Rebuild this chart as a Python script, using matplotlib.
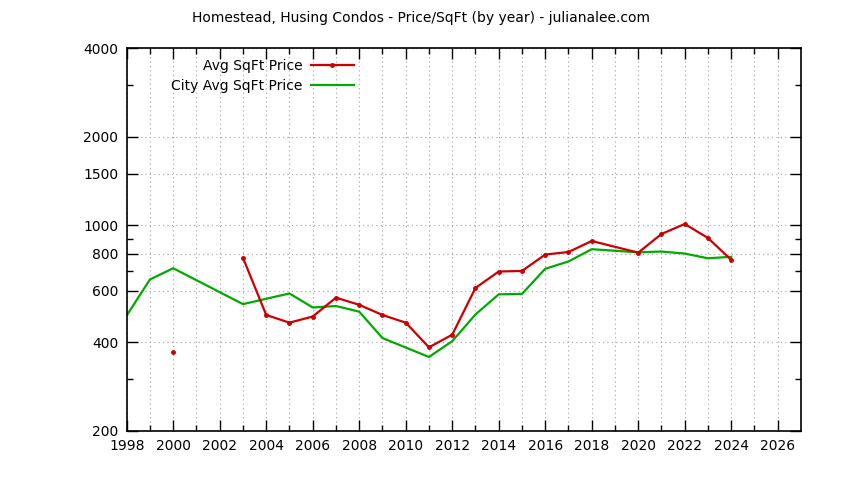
import numpy as np
import matplotlib
matplotlib.use("Agg")
import matplotlib.pyplot as plt
from matplotlib.ticker import FixedLocator, NullFormatter

# Prix moyen au pied carré (Homestead, Husing Condos)
annees_avg = [2000, 2003, 2004, 2005, 2006, 2007, 2008, 2009, 2010, 2011, 2012,
              2013, 2014, 2015, 2016, 2017, 2018, 2020, 2021, 2022, 2023, 2024]
prix_avg = [370, 776, 496, 467, 490, 568, 537, 496, 467, 385, 425,
            613, 697, 700, 796, 812, 885, 808, 935, 1011, 906, 763]

# Prix moyen de la ville
annees_ville = [1998, 1999, 2000, 2003, 2005, 2006, 2007, 2008, 2009, 2011, 2012,
                2013, 2014, 2015, 2016, 2017, 2018, 2020, 2021, 2022, 2023, 2024]
prix_ville = [494, 655, 715, 540, 587, 526, 532, 509, 414, 357, 404,
              498, 583, 585, 712, 754, 830, 810, 815, 802, 773, 782]

y_ticks = [200, 400, 600, 800, 1000, 1500, 2000, 4000]
y_mineurs = [300, 700, 900, 3000]
x_ticks = list(range(1998, 2027, 2))
x_mineurs = list(range(1999, 2027, 2))

titre = "Homestead, Husing Condos - Price/SqFt (by year) - julianalee.com"

plt.rcParams["font.family"] = ["DejaVu Sans"]
plt.rcParams["font.size"] = 10

fig = plt.figure(figsize=(8.44, 4.8), dpi=100)
ax = fig.add_axes([126.7 / 844, 49 / 480, (801 - 126.7) / 844, (431 - 48.3) / 480])

# La série "Avg" a un trou entre 2000 et 2003 : on coupe la ligne
x_avg = np.array(annees_avg, dtype=float)
y_avg = np.array(prix_avg, dtype=float)
coupure = np.where(np.diff(x_avg) > 2)[0]
x_avg = np.insert(x_avg, coupure + 1, np.nan)
y_avg = np.insert(y_avg, coupure + 1, np.nan)

ax.plot(x_avg, y_avg, color="#cc0000", lw=1.6, marker="o", ms=2.5,
        label="Avg SqFt Price", zorder=3)
ax.plot(annees_ville, prix_ville, color="#00aa00", lw=1.6,
        label="City Avg SqFt Price", zorder=2)

ax.set_yscale("log")
ax.set_xlim(1998, 2027)
ax.set_ylim(200, 4000)

ax.yaxis.set_major_locator(FixedLocator(y_ticks))
ax.yaxis.set_major_formatter(matplotlib.ticker.FixedFormatter([str(v) for v in y_ticks]))
ax.yaxis.set_minor_locator(FixedLocator(y_mineurs))
ax.yaxis.set_minor_formatter(NullFormatter())
ax.xaxis.set_major_locator(FixedLocator(x_ticks))
ax.xaxis.set_minor_locator(FixedLocator(x_mineurs))

ax.tick_params(which="both", direction="in", top=True, right=True, colors="black")
ax.tick_params(which="major", length=8, width=1, pad=6, labelsize=10)
ax.tick_params(which="minor", length=4, width=1)

ax.grid(True, which="major", axis="y", color="#a0a0a0", ls=(0, (1, 3)), lw=0.8)
ax.grid(True, which="both", axis="x", color="#a0a0a0", ls=(0, (1, 3)), lw=0.8)
ax.set_axisbelow(True)

for s in ax.spines.values():
    s.set_linewidth(1.2)

fig.text(421 / 844, 1 - 18 / 480, titre, ha="center", va="center", fontsize=10)

ax.legend(loc="upper right", bbox_to_anchor=(354 / 844, 1 - 59 / 480),
          bbox_transform=fig.transFigure, frameon=False, markerfirst=False,
          handlelength=3.1, handletextpad=0.6, borderpad=0, borderaxespad=0,
          labelspacing=0.45, fontsize=10)

plt.savefig("out.png", dpi=100)
